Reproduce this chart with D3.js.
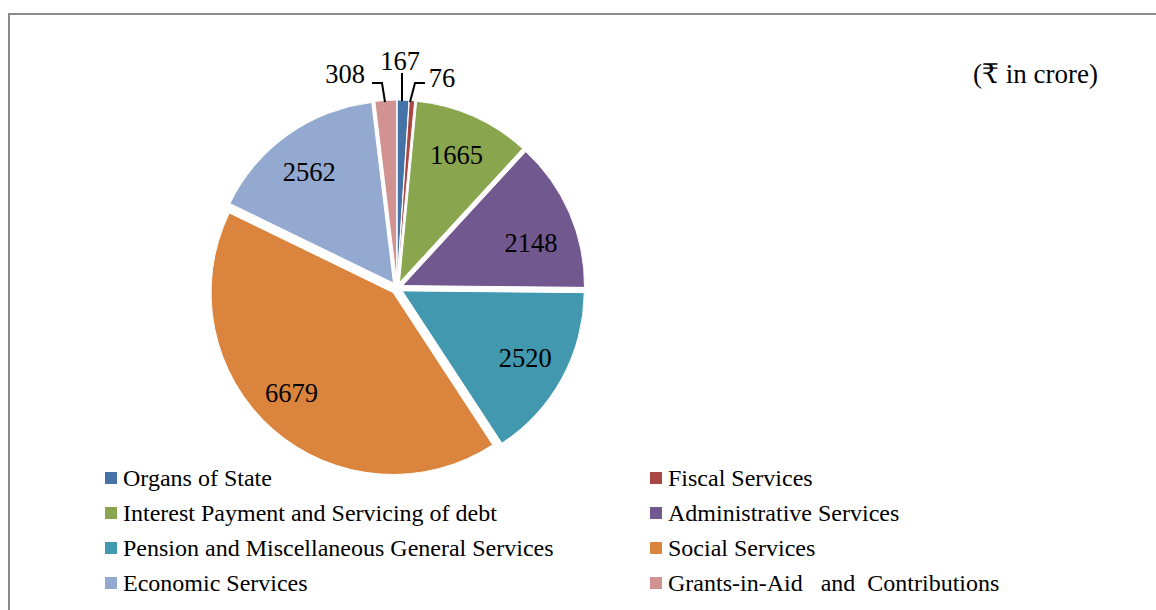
<!DOCTYPE html>
<html>
<head>
<meta charset="utf-8">
<script src="https://cdn.jsdelivr.net/npm/d3@7"></script>
<style>
  html, body { margin: 0; padding: 0; background: #fff; }
  svg { display: block; font-family: "Liberation Serif", "Times New Roman", "DejaVu Serif", serif; }
</style>
</head>
<body>
<svg id="chart" width="1156" height="610"></svg>
<script>
// Expenditure by head (₹ in crore)
const categories = [
  "Organs of State",
  "Fiscal Services",
  "Interest Payment and Servicing of debt",
  "Administrative Services",
  "Pension and Miscellaneous General Services",
  "Social Services",
  "Economic Services",
  "Grants-in-Aid   and  Contributions"
];
const values = [167, 76, 1665, 2148, 2520, 6679, 2562, 308];
const colors = ["#4572A7", "#AA4643", "#89A54E", "#71588F", "#4198AF", "#DB843D", "#93A9CF", "#D19392"];
const unitLabel = "(₹ in crore)";

const svg = d3.select("#chart");

// outer frame
svg.append("rect")
  .attr("x", 9).attr("y", 14)
  .attr("width", 1200).attr("height", 700)
  .attr("fill", "none").attr("stroke", "#8c8c8c").attr("stroke-width", 2);

const cx = 397, cy = 288, r = 182, explode = 6;

const pie = d3.pie().sort(null).value(d => d.value);
const arcs = pie(categories.map((c, i) => ({ name: c, value: values[i], color: colors[i] })));
const arc = d3.arc().innerRadius(0).outerRadius(r);

const g = svg.append("g").attr("transform", `translate(${cx},${cy})`);

function offset(d, e) {
  const a = (d.startAngle + d.endAngle) / 2;
  return [Math.sin(a) * e, -Math.cos(a) * e];
}

const slices = g.selectAll("g.slice").data(arcs).join("g")
  .attr("class", "slice")
  .attr("transform", d => { const [x, y] = offset(d, explode); return `translate(${x},${y})`; });

slices.append("path")
  .attr("d", arc)
  .attr("fill", d => d.data.color)
  .attr("stroke", "#fff").attr("stroke-width", 1);

// labels inside larger slices, with small placement nudges
const labelNudge = {
  "Administrative Services": [0, 13],
  "Social Services": [-9, -5],
  "Economic Services": [-3, 3]
};
const inner = d3.arc().innerRadius(r * 0.77).outerRadius(r * 0.77);
slices.filter(d => d.data.value > 1000).append("text")
  .attr("transform", d => {
    const [x, y] = inner.centroid(d);
    const [nx, ny] = labelNudge[d.data.name] || [0, 0];
    return `translate(${x + nx},${y + ny})`;
  })
  .attr("text-anchor", "middle")
  .attr("dy", "0.35em")
  .attr("font-size", 26.5)
  .attr("fill", "#000")
  .text(d => d.data.value);

// small slices: labels outside with leader lines
const small = arcs.filter(d => d.data.value < 1000);
const outerLabel = {
  "Organs of State":   { tx: 3,   ty: -218, line: [[5, -187], [5, -215]] },
  "Fiscal Services":   { tx: 45,  ty: -201, line: [[13, -186], [18, -205], [28, -205]] },
  "Grants-in-Aid   and  Contributions": { tx: -52, ty: -205, line: [[-12, -186], [-15, -205], [-25, -205]] }
};
small.forEach(d => {
  const spec = outerLabel[d.data.name];
  g.append("path")
    .attr("d", d3.line()(spec.line))
    .attr("fill", "none").attr("stroke", "#000").attr("stroke-width", 2);
  g.append("text")
    .attr("x", spec.tx).attr("y", spec.ty)
    .attr("text-anchor", "middle")
    .attr("font-size", 26.5)
    .text(d.data.value);
});

// unit note
svg.append("text")
  .attr("x", 1098).attr("y", 83)
  .attr("text-anchor", "end")
  .attr("font-size", 27)
  .text(unitLabel);

// legend, two columns
const legend = svg.append("g");
const colX = [105, 650], rowY0 = 478, rowStep = 35;
categories.forEach((c, i) => {
  const x = colX[i % 2], y = rowY0 + Math.floor(i / 2) * rowStep;
  legend.append("rect")
    .attr("x", x).attr("y", y - 6).attr("width", 12).attr("height", 12)
    .attr("fill", colors[i]);
  legend.append("text")
    .attr("x", x + 18).attr("y", y)
    .attr("dy", "0.35em")
    .attr("font-size", 24)
    .attr("xml:space", "preserve")
    .style("white-space", "pre")
    .text(c);
});
</script>
</body>
</html>
